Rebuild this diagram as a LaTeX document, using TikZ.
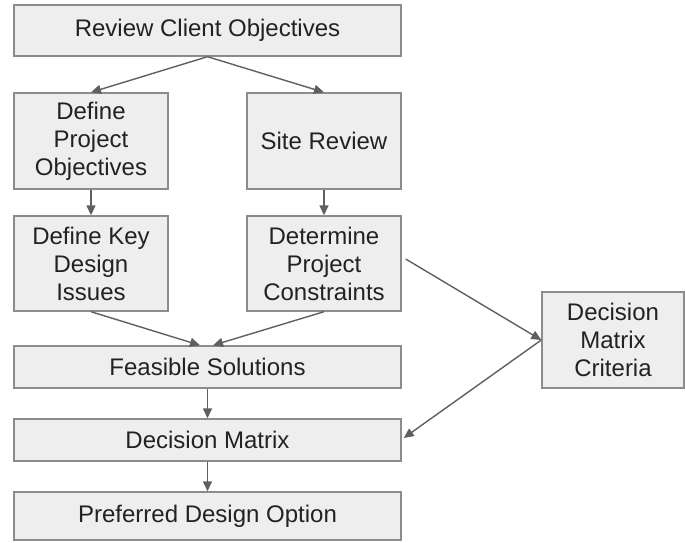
\documentclass[tikz,border=0pt]{standalone}
\usepackage{fontspec}
\setmainfont{Liberation Sans}
\usetikzlibrary{arrows.meta,calc}
\definecolor{boxfill}{HTML}{EEEEEE}
\definecolor{boxline}{HTML}{8C8C8C}
\definecolor{arrowline}{HTML}{5F5F5F}
\definecolor{textcol}{HTML}{222222}
\begin{document}
\begin{tikzpicture}[x=1pt,y=-1pt,
  stepbox/.style={draw=boxline,fill=boxfill,line width=1.4pt,inner sep=0pt,
    text=textcol,align=center,font=\fontsize{24}{28}\selectfont},
  flow/.style={draw=arrowline,line width=1.4pt,
    -{Triangle[length=10pt,width=9pt]}}]
\useasboundingbox (0,0) rectangle (685,542);

% process boxes
\node[stepbox,minimum width=387pt,minimum height=51pt] (rco) at (207.5,30.5) {Review Client Objectives};
\node[stepbox,minimum width=154pt,minimum height=96pt] (dpo) at (91,141) {Define\\Project\\Objectives};
\node[stepbox,minimum width=154pt,minimum height=96pt] (sr) at (324,141) {Site Review};
\node[stepbox,minimum width=154pt,minimum height=95pt] (dki) at (91,263.5) {Define Key\\Design\\Issues};
\node[stepbox,minimum width=154pt,minimum height=95pt] (dpc) at (324,263.5) {Determine\\Project\\Constraints};
\node[stepbox,minimum width=387pt,minimum height=42pt] (fs) at (207.5,367) {Feasible Solutions};
\node[stepbox,minimum width=387pt,minimum height=42pt] (dm) at (207.5,440) {Decision Matrix};
\node[stepbox,minimum width=387pt,minimum height=48pt] (pdo) at (207.5,516) {Preferred Design Option};
\node[stepbox,minimum width=142pt,minimum height=96pt] (dmc) at (613,340) {Decision\\Matrix\\Criteria};

% connector end points
\coordinate (fsL) at ($(fs.north)+(-7.5,0)$);
\coordinate (fsR) at ($(fs.north)+(5.5,0)$);
\coordinate (dpcOut) at ($(dpc.east)+(4,-4.5)$);
\coordinate (dmIn) at ($(dm.east)+(2,-2)$);

% connectors
\draw[flow] (rco.south) -- (dpo.north);
\draw[flow] (rco.south) -- (sr.north);
\draw[flow] (dpo.south) -- (dki.north);
\draw[flow] (sr.south) -- (dpc.north);
\draw[flow] (dki.south) -- (fsL);
\draw[flow] (dpc.south) -- (fsR);
\draw[flow] (dpcOut) -- (dmc.west);
\draw[flow] (dmc.west) -- (dmIn);
\draw[flow] (fs.south) -- (dm.north);
\draw[flow] (dm.south) -- (pdo.north);
\end{tikzpicture}
\end{document}
